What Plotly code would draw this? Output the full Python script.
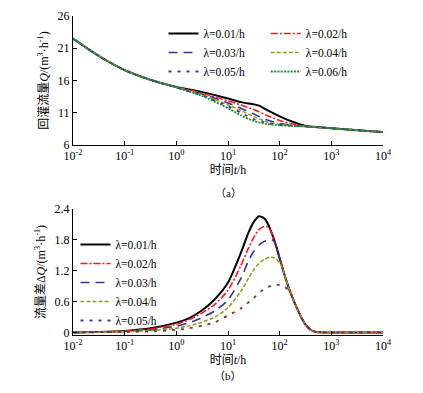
import plotly.graph_objects as go

# ---------------- data ----------------
LAMBDA_LABELS = ["λ=0.01/h", "λ=0.02/h", "λ=0.03/h", "λ=0.04/h", "λ=0.05/h", "λ=0.06/h"]

# top panel (a): Q vs time, log10(t) grid
top_lg_black = [-2, -1.5, -1, -0.5, 0, 0.5, 1, 1.25, 1.5, 1.6, 1.75, 2, 2.25, 2.5, 2.75, 3, 3.5, 4]
top_q_001 = [22.5, 19.8, 17.6, 16.1, 15.0, 14.2, 13.2, 12.65, 12.3, 12.1, 11.45, 10.45, 9.6, 8.95, 8.75, 8.6, 8.3, 8.0]

top_lg = [-2, -1.5, -1, -0.5, 0, 0.5, 1, 1.25, 1.5, 1.75, 2, 2.25, 2.5, 2.75, 3, 3.5, 4]
top_q_002 = [22.5, 19.8, 17.6, 16.1, 15.0, 14.05, 12.85, 12.2, 11.5, 10.6, 9.8, 9.25, 8.92, 8.75, 8.6, 8.3, 8.0]
top_q_003 = [22.5, 19.8, 17.6, 16.1, 14.95, 13.9, 12.5, 11.7, 10.8, 9.9, 9.35, 9.05, 8.9, 8.75, 8.6, 8.3, 8.0]
top_q_004 = [22.5, 19.8, 17.6, 16.1, 14.95, 13.8, 12.25, 11.35, 10.4, 9.6, 9.2, 9.0, 8.88, 8.75, 8.6, 8.3, 8.0]
top_q_005 = [22.5, 19.8, 17.6, 16.1, 14.9, 13.7, 12.0, 11.0, 10.0, 9.4, 9.1, 8.98, 8.87, 8.75, 8.6, 8.3, 8.0]
top_q_006 = [22.5, 19.8, 17.6, 16.1, 14.9, 13.6, 11.7, 10.6, 9.7, 9.25, 9.05, 8.95, 8.86, 8.75, 8.6, 8.3, 8.0]

# bottom panel (b): delta Q vs time
bot_lg_001 = [-2, -1.5, -1, -0.5, 0, 0.25, 0.5, 0.75, 1, 1.25, 1.4, 1.5, 1.6, 1.7, 1.75, 1.8, 1.85, 1.9, 1.95, 2.0, 2.1, 2.2, 2.3, 2.4, 2.5, 2.6, 2.7, 3, 3.5, 4]
bot_dq_001 = [0.0, 0.01, 0.03, 0.08, 0.19, 0.28, 0.43, 0.65, 0.97, 1.55, 1.95, 2.15, 2.26, 2.22, 2.15, 2.05, 1.92, 1.78, 1.62, 1.44, 1.1, 0.8, 0.55, 0.33, 0.15, 0.05, 0.01, 0.0, 0.0, 0.0]

bot_lg_002 = [-2, -1.5, -1, -0.5, 0, 0.25, 0.5, 0.75, 1, 1.25, 1.4, 1.5, 1.6, 1.7, 1.75, 1.8, 1.85, 1.9, 1.95, 2.0, 2.1, 2.2, 2.3, 2.4, 2.5, 2.6, 2.7, 3, 3.5, 4]
bot_dq_002 = [0.0, 0.01, 0.025, 0.07, 0.16, 0.25, 0.38, 0.55, 0.82, 1.3, 1.65, 1.85, 2.0, 2.06, 2.06, 2.02, 1.92, 1.78, 1.62, 1.44, 1.1, 0.8, 0.55, 0.33, 0.15, 0.05, 0.01, 0.0, 0.0, 0.0]

bot_lg_003 = [-2, -1.5, -1, -0.5, 0, 0.25, 0.5, 0.75, 1, 1.25, 1.4, 1.5, 1.6, 1.7, 1.75, 1.8, 1.85, 1.9, 1.95, 2.0, 2.1, 2.2, 2.3, 2.4, 2.5, 2.6, 2.7, 3, 3.5, 4]
bot_dq_003 = [0.0, 0.01, 0.02, 0.05, 0.12, 0.19, 0.29, 0.42, 0.63, 1.05, 1.4, 1.58, 1.7, 1.77, 1.79, 1.8, 1.8, 1.76, 1.62, 1.44, 1.1, 0.8, 0.55, 0.33, 0.15, 0.05, 0.01, 0.0, 0.0, 0.0]

bot_lg_004 = [-2, -1.5, -1, -0.5, 0, 0.25, 0.5, 0.75, 1, 1.25, 1.4, 1.5, 1.6, 1.7, 1.8, 1.9, 2.0, 2.05, 2.1, 2.2, 2.3, 2.4, 2.5, 2.6, 2.7, 3, 3.5, 4]
bot_dq_004 = [0.0, 0.005, 0.015, 0.035, 0.08, 0.13, 0.2, 0.3, 0.48, 0.8, 1.06, 1.22, 1.34, 1.42, 1.46, 1.45, 1.36, 1.26, 1.1, 0.8, 0.55, 0.33, 0.15, 0.05, 0.01, 0.0, 0.0, 0.0]

bot_lg_005 = [-2, -1.5, -1, -0.5, 0, 0.25, 0.5, 0.75, 1, 1.25, 1.5, 1.6, 1.75, 1.9, 2.0, 2.1, 2.2, 2.3, 2.4, 2.5, 2.6, 2.7, 3, 3.5, 4]
bot_dq_005 = [0.0, 0.004, 0.01, 0.02, 0.05, 0.08, 0.13, 0.2, 0.33, 0.47, 0.67, 0.77, 0.87, 0.93, 0.92, 0.88, 0.79, 0.55, 0.33, 0.15, 0.05, 0.01, 0.0, 0.0, 0.0]

X_TICKVALS = [1e-2, 1e-1, 1e0, 1e1, 1e2, 1e3, 1e4]
X_TICKTEXT = ["10<sup>-2</sup>", "10<sup>-1</sup>", "10<sup>0</sup>", "10<sup>1</sup>",
              "10<sup>2</sup>", "10<sup>3</sup>", "10<sup>4</sup>"]
Y1_TICKS = [6, 11, 16, 21, 26]
Y2_TICKS = [0, 0.6, 1.2, 1.8, 2.4]
Y2_TICKTEXT = ["0", "0.6", "1.2", "1.8", "2.4"]

# ---------------- styles ----------------
FONT = "'Liberation Serif', 'Times New Roman', 'Noto Sans CJK SC', serif"
C_BLACK = "#000000"
C_RED = "#ff1a1a"
C_BLUE = "#35359a"
C_OLIVE = "#959a2c"
C_PURPLE = "#3a3aa0"
C_GREEN = "#1a8c3c"
C_MAROON = "#8b2e2e"

# page has an 8px body margin: figure is sized so the plot lands where the reference has it
W, H = 415, 385
ML, MR, MT, MB = 65, 40, 8, 58
PLOT_H = H - MT - MB


def py(p):
    """page pixel (from top of window) -> paper fraction"""
    return (H - MB - (p - 8)) / PLOT_H


def tx(lg):
    return [10 ** v for v in lg]


fig = go.Figure()

top_series = [
    (top_lg_black, top_q_001, LAMBDA_LABELS[0], C_BLACK, "solid", 2.0, "legend"),
    (top_lg, top_q_002, LAMBDA_LABELS[1], C_RED, "7px,2px,2px,2px", 1.6, "legend2"),
    (top_lg, top_q_003, LAMBDA_LABELS[2], C_BLUE, "9px,6px", 1.6, "legend"),
    (top_lg, top_q_004, LAMBDA_LABELS[3], C_OLIVE, "4px,2px", 1.6, "legend2"),
    (top_lg, top_q_005, LAMBDA_LABELS[4], C_PURPLE, "3px,6px", 1.8, "legend"),
    (top_lg, top_q_006, LAMBDA_LABELS[5], C_GREEN, "2px,1.3px", 1.8, "legend2"),
]
for i, (lg, q, name, col, dash, w, leg) in enumerate(top_series):
    fig.add_trace(go.Scatter(
        x=tx(lg), y=q, mode="lines", name=name, legend=leg,
        line=dict(color=col, dash=dash, width=w, shape="spline", smoothing=0.6),
        xaxis="x", yaxis="y", legendrank=i, showlegend=True))

bot_series = [
    (bot_lg_001, bot_dq_001, LAMBDA_LABELS[0], C_BLACK, "solid", 2.0),
    (bot_lg_002, bot_dq_002, LAMBDA_LABELS[1], C_RED, "7px,2px,2px,2px", 1.6),
    (bot_lg_003, bot_dq_003, LAMBDA_LABELS[2], C_BLUE, "9px,6px", 1.6),
    (bot_lg_004, bot_dq_004, LAMBDA_LABELS[3], C_OLIVE, "4px,2px", 1.6),
    (bot_lg_005, bot_dq_005, LAMBDA_LABELS[4], C_MAROON, "3px,6px", 1.8),
]
for i, (lg, dq, name, col, dash, w) in enumerate(bot_series):
    fig.add_trace(go.Scatter(
        x=tx(lg), y=dq, mode="lines", name=name, legend="legend3",
        line=dict(color=col, dash=dash, width=w, shape="spline", smoothing=0.6),
        xaxis="x2", yaxis="y2", showlegend=i < 4, legendrank=i))
# legend entry for lambda=0.05 (its legend symbol is purple in the original)
fig.add_trace(go.Scatter(
    x=[None], y=[None], mode="lines", name=LAMBDA_LABELS[4], legend="legend3",
    line=dict(color=C_PURPLE, dash="3px,6px", width=1.8),
    xaxis="x2", yaxis="y2", showlegend=True, legendrank=4))

axis_common = dict(
    showline=True, linecolor="black", linewidth=1, mirror=False,
    ticks="inside", ticklen=4, tickcolor="black", tickwidth=1,
    showgrid=False, zeroline=False,
    tickfont=dict(family=FONT, size=12, color="black"),
)
xt = dict(type="log", range=[-2, 4], tickvals=X_TICKVALS, ticktext=X_TICKTEXT, **axis_common)
leg_common = dict(xanchor="left", yanchor="top", bgcolor="rgba(0,0,0,0)",
                  font=dict(family=FONT, size=11.5, color="black"),
                  itemwidth=30, tracegroupgap=0, traceorder="normal")

fig.update_layout(
    width=W, height=H,
    margin=dict(l=ML, r=MR, t=MT, b=MB, autoexpand=False),
    paper_bgcolor="white", plot_bgcolor="white",
    font=dict(family=FONT, size=12, color="black"),
    showlegend=True,
    xaxis=dict(domain=[0, 1], anchor="y",
               title=dict(text="时间<i>t</i>/h", font=dict(family=FONT, size=12), standoff=2),
               **xt),
    yaxis=dict(domain=[py(145), 1], anchor="x", range=[6, 26], tickvals=Y1_TICKS,
               title=dict(text="回灌流量<i>Q</i>/(m<sup>3</sup>·h<sup>-1</sup>)",
                          font=dict(family=FONT, size=12), standoff=6),
               **axis_common),
    xaxis2=dict(domain=[0, 1], anchor="y2",
                title=dict(text="时间<i>t</i>/h", font=dict(family=FONT, size=12), standoff=2),
                **xt),
    yaxis2=dict(domain=[0, py(209)], anchor="x2", range=[-0.05, 2.4],
                tickvals=Y2_TICKS, ticktext=Y2_TICKTEXT,
                title=dict(text="流量差Δ<i>Q</i>/(m<sup>3</sup>·h<sup>-1</sup>)",
                           font=dict(family=FONT, size=12), standoff=6),
                **axis_common),
    legend=dict(x=0.292, y=py(19), **leg_common),
    legend2=dict(x=0.622, y=py(19), **leg_common),
    legend3=dict(x=0.008, y=py(230), **leg_common),
    annotations=[
        dict(text="（a）", x=0.5, y=py(193), xref="paper", yref="paper", showarrow=False,
             font=dict(family=FONT, size=11)),
        dict(text="（b）", x=0.5, y=py(384), xref="paper", yref="paper", showarrow=False,
             font=dict(family=FONT, size=11)),
    ],
)

fig.write_html("out.html")
